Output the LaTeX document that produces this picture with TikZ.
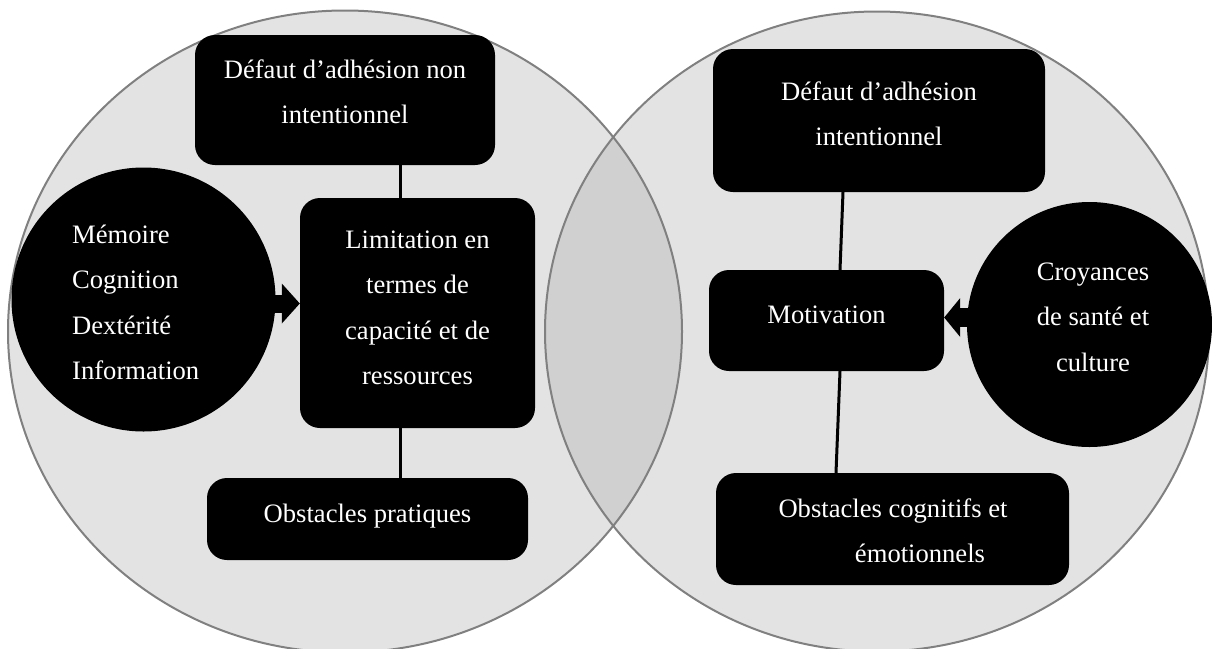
\documentclass[tikz,border=0pt]{standalone}
\usepackage{fontspec}
\setmainfont{Liberation Serif}
\usetikzlibrary{arrows.meta}
\definecolor{venn}{HTML}{E3E3E3}
\definecolor{lens}{HTML}{D0D0D0}
\definecolor{rim}{HTML}{808080}
\newcommand\mlc[1]{\begin{tabular}[t]{@{}c@{}}#1\end{tabular}}
\newcommand\mll[1]{\begin{tabular}[t]{@{}l@{}}#1\end{tabular}}
\begin{document}
\begin{tikzpicture}[x=1pt,y=-1pt,
  box/.style={fill=black, draw=none, rectangle, rounded corners=20pt, inner sep=0pt},
  blob/.style={fill=black, draw=none, circle, inner sep=0pt},
  txt/.style={text=white, inner sep=0pt, font=\fontsize{26.6pt}{45.5pt}\selectfont},
  link/.style={draw=black, line width=3pt},
  barrow/.style={draw=black, line width=#1}]
\useasboundingbox (0,0) rectangle (1212,648);
% Venn background
\fill[venn] (345,331.5) ellipse [x radius=337pt, y radius=321pt];
\fill[venn] (877,331.5) ellipse [x radius=332pt, y radius=320pt];
\begin{scope}
  \clip (345,331.5) ellipse [x radius=337pt, y radius=321pt];
  \fill[lens] (877,331.5) ellipse [x radius=332pt, y radius=320pt];
\end{scope}
\draw[rim, line width=2pt] (345,331.5) ellipse [x radius=337pt, y radius=321pt];
\draw[rim, line width=2pt] (877,331.5) ellipse [x radius=332pt, y radius=320pt];
% left side
\node[box, minimum width=300pt, minimum height=130pt] (b1) at (345,100) {};
\node[box, minimum width=235pt, minimum height=230pt] (b2) at (417.5,313) {};
\node[box, minimum width=321pt, minimum height=82pt] (b3) at (367.5,519) {};
\node[blob, minimum size=264pt] (c1) at (143.5,299.5) {};
% right side
\node[box, minimum width=332pt, minimum height=143pt] (b5) at (879,120.5) {};
\node[box, minimum width=235pt, minimum height=101pt] (b6) at (826.5,320.5) {};
\node[box, minimum width=353pt, minimum height=112pt] (b7) at (892.5,529) {};
\node[blob, minimum size=245pt] (c2) at (1089.5,324.5) {};
% connectors
\draw[link] ([xshift=55pt]b1.south) -- ([xshift=55pt]b1.south |- b2.north);
\draw[link] ([xshift=-17.5pt]b2.south) -- ([xshift=-17.5pt]b2.south |- b3.north);
\draw[link] ([xshift=-36pt]b5.south) -- ([xshift=13.5pt]b6.north);
\draw[link] ([xshift=13.5pt]b6.south) -- ([xshift=-56.5pt]b7.north);
\draw[barrow=18pt, -{Triangle[width=40pt,length=18pt,line width=0pt]}]
  ([yshift=-4pt]c1.center) -- ([yshift=-4pt]c1.center -| b2.west);
\draw[barrow=19pt, -{Triangle[width=39pt,length=16pt,line width=0pt]}]
  ([yshift=7pt]c2.center) -- ([yshift=7pt]c2.center -| b6.east);
% texts
\node[txt, anchor=base] (t1) at (345,78) {\mlc{Défaut d’adhésion non\\intentionnel}};
\node[txt, anchor=base] (t2) at (417.5,248) {\mlc{Limitation en\\termes de\\capacité et de\\ressources}};
\node[txt, anchor=base] (t3) at (367.5,522) {Obstacles pratiques};
\node[txt, anchor=base west] (t4) at (72,243) {\mll{Mémoire\\Cognition\\Dextérité\\Information}};
\node[txt, anchor=base] (t5) at (879,100) {\mlc{Défaut d’adhésion\\intentionnel}};
\node[txt, anchor=base] (t6) at (826.5,323) {Motivation};
\node[txt, anchor=base] (t7) at (893,517) {\mlc{Obstacles cognitifs et\\\hspace*{54pt}émotionnels}};
\node[txt, anchor=base] (t8) at (1093,280) {\mlc{Croyances\\de santé et\\culture}};
\end{tikzpicture}
\end{document}
